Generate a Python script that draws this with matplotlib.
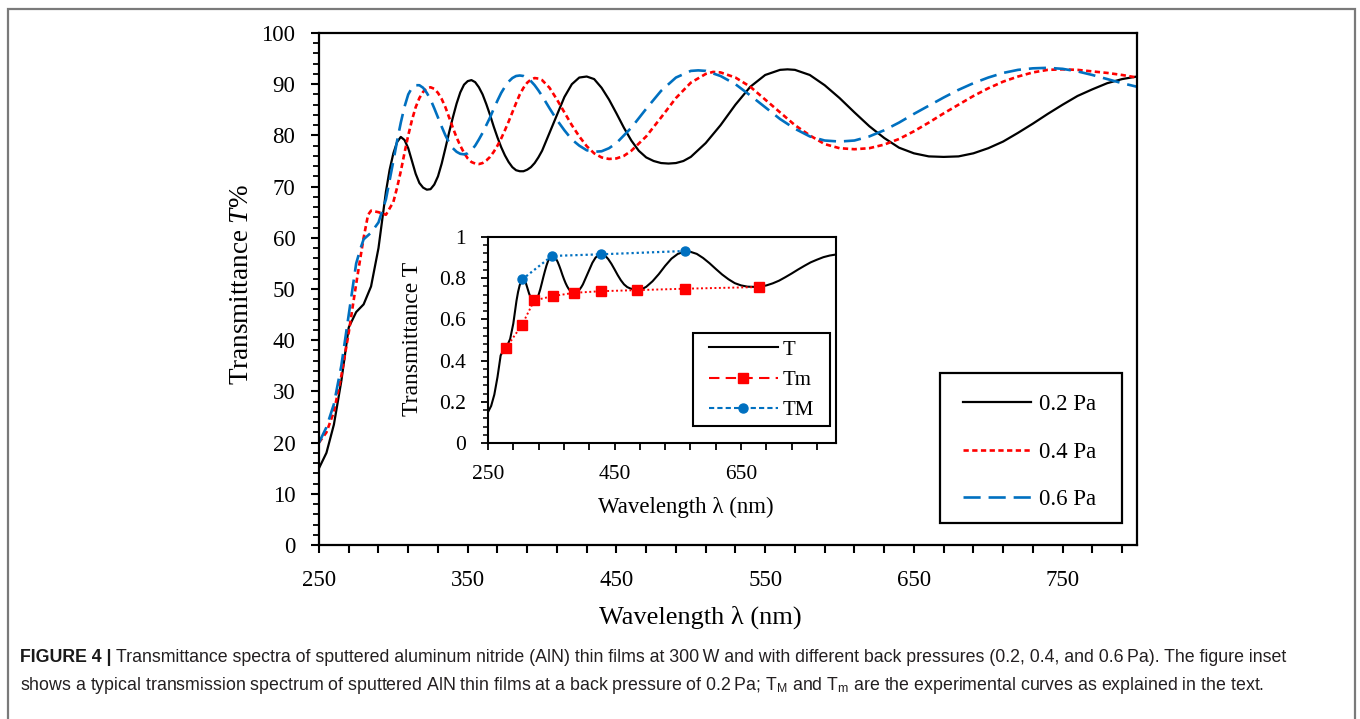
import matplotlib
matplotlib.use("Agg")
import matplotlib.pyplot as plt
from matplotlib.lines import Line2D
from matplotlib.patches import Rectangle
from matplotlib import font_manager

names = {f.name for f in font_manager.fontManager.ttflist}
cap_font = 'Liberation Sans Narrow' if 'Liberation Sans Narrow' in names else 'Liberation Sans'

plt.rcParams['font.family'] = ['Liberation Serif', 'DejaVu Serif']
plt.rcParams['mathtext.fontset'] = 'custom'
plt.rcParams['mathtext.rm'] = 'Liberation Serif'
plt.rcParams['mathtext.it'] = 'Liberation Serif:italic'
plt.rcParams['mathtext.sf'] = cap_font

# ---------------- data ----------------
wl_02 = [250, 255, 260, 265, 270, 275, 280, 285, 290, 292.5, 295, 297.5, 300, 302.5, 305, 307.5,
         310, 312.5, 315, 317.5, 320, 322.5, 325, 327.5, 330, 332.5, 335, 337.5, 340, 342.5, 345,
         347.5, 350, 352.5, 355, 357.5, 360, 362.5, 365, 367.5, 370, 372.5, 375, 377.5, 380,
         382.5, 385, 387.5, 390, 392.5, 395, 397.5, 400, 405, 410, 415, 420, 425, 430, 435, 440,
         445, 450, 455, 460, 465, 470, 475, 480, 485, 490, 495, 500, 510, 520, 530, 540, 550,
         560, 565, 570, 580, 590, 600, 610, 620, 630, 640, 650, 660, 670, 680, 690, 700, 710,
         720, 730, 740, 750, 760, 770, 780, 790, 800]
T_02 = [15.0, 18.0, 23.5, 32.0, 42.5, 45.5, 47.0, 50.5, 58.0, 63.5, 69.0, 73.3, 76.5, 78.7, 79.7,
        79.1, 77.5, 75.0, 72.5, 70.7, 69.8, 69.4, 69.5, 70.4, 72.0, 74.5, 77.5, 80.6, 83.5, 86.2,
        88.4, 89.9, 90.6, 90.8, 90.4, 89.4, 88.0, 86.1, 84.0, 81.7, 79.6, 77.7, 76.1, 74.8, 73.8,
        73.2, 73.0, 73.0, 73.3, 73.8, 74.6, 75.7, 77.0, 80.5, 84.0, 87.5, 90.0, 91.3, 91.5, 91.0,
        89.3, 87.0, 84.3, 81.5, 79.0, 77.0, 75.7, 75.0, 74.6, 74.5, 74.6, 75.0, 75.8, 78.5, 82.0,
        86.0, 89.5, 91.8, 92.8, 92.9, 92.8, 91.8, 89.8, 87.3, 84.5, 81.8, 79.5, 77.6, 76.5, 75.9,
        75.8, 75.9, 76.5, 77.5, 78.8, 80.5, 82.3, 84.2, 86.0, 87.7, 89.0, 90.2, 91.0, 91.5]

wl_04 = [250, 255, 260, 265, 270, 275, 280, 283, 285, 290, 295, 300, 302.5, 305, 307.5, 310, 312.5,
         315, 317.5, 320, 322.5, 325, 327.5, 330, 332.5, 335, 337.5, 340, 342.5, 345, 347.5, 350,
         352.5, 355, 357.5, 360, 362.5, 365, 367.5, 370, 372.5, 375, 377.5, 380, 382.5, 385,
         387.5, 390, 392.5, 395, 397.5, 400, 405, 410, 415, 420, 425, 430, 435, 440, 445, 450,
         455, 460, 470, 480, 490, 500, 510, 515, 520, 530, 540, 550, 560, 570, 580, 590, 600,
         610, 620, 630, 640, 650, 660, 670, 680, 690, 700, 710, 720, 730, 740, 750, 760, 770,
         780, 790, 800]
T_04 = [20.0, 22.0, 26.0, 33.0, 41.5, 51.0, 60.0, 64.5, 65.3, 65.0, 64.5, 67.0, 69.8, 73.0, 76.6,
        80.0, 83.0, 85.5, 87.3, 88.5, 89.2, 89.4, 89.1, 88.3, 87.1, 85.5, 83.5, 81.5, 79.6, 78.0,
        76.6, 75.5, 74.8, 74.5, 74.4, 74.6, 75.1, 75.8, 76.8, 78.0, 79.4, 81.0, 82.7, 84.5, 86.3,
        88.0, 89.3, 90.3, 90.9, 91.2, 91.1, 90.8, 89.3, 87.0, 84.5, 82.0, 79.8, 77.9, 76.5, 75.7,
        75.4, 75.5, 76.0, 77.0, 79.8, 83.5, 87.3, 90.3, 92.0, 92.4, 92.3, 91.3, 89.5, 87.0, 84.5,
        82.0, 80.0, 78.3, 77.5, 77.3, 77.5, 78.2, 79.3, 80.8, 82.5, 84.3, 86.0, 87.7, 89.2, 90.5,
        91.5, 92.3, 92.8, 92.9, 92.8, 92.5, 92.2, 91.8, 91.3]

wl_06 = [250, 255, 260, 265, 270, 275, 278, 280, 285, 290, 295, 300, 302.5, 305, 307.5, 310, 312.5,
         315, 317.5, 320, 322.5, 325, 327.5, 330, 332.5, 335, 337.5, 340, 342.5, 345, 347.5, 350,
         352.5, 355, 357.5, 360, 362.5, 365, 367.5, 370, 372.5, 375, 377.5, 380, 382.5, 385,
         387.5, 390, 392.5, 395, 397.5, 400, 405, 410, 415, 420, 425, 430, 435, 440, 445, 450,
         460, 470, 480, 490, 500, 505, 510, 520, 530, 540, 550, 560, 570, 580, 590, 600, 610,
         620, 630, 640, 650, 660, 670, 680, 690, 700, 710, 720, 730, 740, 750, 760, 770, 780,
         790, 800]
T_06 = [20.0, 23.0, 27.5, 35.0, 45.0, 55.0, 58.0, 59.7, 61.0, 63.0, 67.5, 75.0, 78.9, 82.5, 85.6,
        88.0, 89.3, 89.8, 89.8, 89.3, 88.3, 87.0, 85.3, 83.5, 81.7, 80.0, 78.6, 77.5, 76.8, 76.4,
        76.3, 76.5, 77.1, 78.0, 79.2, 80.5, 82.0, 83.5, 85.2, 86.8, 88.3, 89.5, 90.5, 91.2, 91.6,
        91.7, 91.6, 91.2, 90.6, 89.8, 88.8, 87.7, 85.3, 83.0, 81.0, 79.2, 78.0, 77.1, 76.8, 76.9,
        77.5, 78.5, 81.5, 85.2, 88.7, 91.3, 92.6, 92.7, 92.6, 91.6, 90.0, 87.8, 85.5, 83.2, 81.3,
        79.8, 79.0, 78.8, 79.0, 79.8, 81.0, 82.5, 84.2, 85.8, 87.4, 88.9, 90.2, 91.3, 92.2, 92.8,
        93.1, 93.2, 93.0, 92.5, 91.8, 91.0, 90.2, 89.5]

# inset: envelopes
wl_Tm = [278, 304, 323, 352, 386, 429, 485, 561, 678]
Tm = [0.459, 0.575, 0.692, 0.713, 0.729, 0.737, 0.742, 0.749, 0.757]
wl_TM = [304, 351, 429, 561]
TM = [0.794, 0.908, 0.916, 0.932]

labels_main = ['0.2 Pa', '0.4 Pa', '0.6 Pa']
labels_inset = ['T', 'Tm', 'TM']

RED = '#FF0000'
BLUE = '#0070C0'

W, H = 1360, 719
fig = plt.figure(figsize=(W / 100, H / 100), dpi=100)

def fx(px):
    return px / W

def fy(py):
    return 1 - py / H

def frame(x0, y0, x1, y1, lw, color='black'):
    fig.patches.append(Rectangle((fx(x0), fy(y1)), fx(x1) - fx(x0), fy(y0) - fy(y1),
                                 transform=fig.transFigure, fill=False, edgecolor=color,
                                 linewidth=lw, zorder=10))

# outer frame
fig.patches.append(Rectangle((fx(7.5), -0.05), fx(1354.5) - fx(7.5), fy(8.5) + 0.05,
                             transform=fig.transFigure, fill=False, edgecolor='#7a7a7a',
                             linewidth=1.6))

# ---------------- main axes ----------------
ax = fig.add_axes([fx(319), fy(545), fx(1137) - fx(319), fy(33) - fy(545)])
l1, = ax.plot(wl_02, T_02, color='black', lw=1.6, solid_joinstyle='round')
l2, = ax.plot(wl_04, T_04, color=RED, lw=1.9, linestyle=(0, (2.0, 1.3)))
l3, = ax.plot(wl_06, T_06, color=BLUE, lw=1.9, linestyle=(0, (6.5, 3.0)))
ax.set_xlim(250, 800)
ax.set_ylim(0, 100)
xt = list(range(250, 801, 20))
ax.set_xticks(xt)
ax.set_xticklabels([str(v) if (v - 250) % 100 == 0 else '' for v in xt])
ax.set_yticks(range(0, 101, 10))
ax.set_yticks(range(0, 101, 2), minor=True)
ax.tick_params(axis='both', which='major', direction='out', length=6, width=1.5,
               labelsize=16.5)
ax.tick_params(axis='y', which='major', pad=11)
ax.tick_params(axis='x', which='major', pad=12)
ax.tick_params(axis='y', which='minor', direction='out', length=4, width=1.3)
for s in ax.spines.values():
    s.set_linewidth(1.6)
xl = ax.set_xlabel('Wavelength λ (nm)', fontsize=19)
yl = ax.set_ylabel('Transmittance $\\mathit{T}$%', fontsize=19.5)
xl.set_verticalalignment('center')
yl.set_verticalalignment('center')
ax.xaxis.set_label_coords((700 - 319) / 818, (545 - 617) / 512)
ax.yaxis.set_label_coords((241 - 319) / 818, (545 - 285) / 512)

leg = ax.legend([l1, l2, l3], labels_main, loc='upper left',
                bbox_to_anchor=(fx(963), fy(394)), bbox_transform=fig.transFigure,
                fontsize=16.5, handlelength=2.97, handletextpad=0.35, labelspacing=1.16,
                borderpad=0, borderaxespad=0, frameon=False)
frame(940, 373, 1122, 523, 1.6)

# ---------------- inset ----------------
ins = fig.add_axes([fx(488), fy(443), fx(836) - fx(488), fy(237) - fy(443)])
T_inset = [v / 100 for v in T_02]
i1, = ins.plot(wl_02, T_inset, color='black', lw=1.5, solid_joinstyle='round')
i2, = ins.plot(wl_Tm, Tm, color=RED, lw=1.4, linestyle=(0, (1, 1.3)), marker='s',
               markersize=6.5, zorder=3)
i3, = ins.plot(wl_TM, TM, color=BLUE, lw=1.6, linestyle=(0, (1, 1.3)), marker='o',
               markersize=6.5, zorder=3)
ins.set_xlim(250, 800)
ins.set_ylim(0, 1)
xti = list(range(250, 801, 40))
ins.set_xticks(xti)
ins.set_xticklabels([str(v) if (v - 250) % 200 == 0 else '' for v in xti])
ins.set_yticks([0, 0.2, 0.4, 0.6, 0.8, 1.0])
ins.set_yticklabels(['0', '0.2', '0.4', '0.6', '0.8', '1'])
ins.set_yticks([i * 0.04 for i in range(26)], minor=True)
ins.tick_params(axis='both', which='major', direction='out', length=5, width=1.3,
                labelsize=15.5)
ins.tick_params(axis='y', which='major', pad=11)
ins.tick_params(axis='x', which='major', pad=11)
ins.tick_params(axis='y', which='minor', direction='out', length=3.5, width=1.1)
for s in ins.spines.values():
    s.set_linewidth(1.5)
ixl = ins.set_xlabel('Wavelength λ (nm)', fontsize=16.5)
iyl = ins.set_ylabel('Transmittance T', fontsize=17)
ixl.set_verticalalignment('center')
iyl.set_verticalalignment('center')
ins.xaxis.set_label_coords((686 - 488) / 348, (443 - 507) / 206)
ins.yaxis.set_label_coords((413 - 488) / 348, (443 - 339) / 206)

h1 = Line2D([], [], color='black', lw=1.5)
h2 = Line2D([], [], color=RED, lw=1.5, linestyle=(0, (5, 3)), marker='s', markersize=6.5)
h3 = Line2D([], [], color=BLUE, lw=1.5, linestyle=(0, (2.5, 1.5)), marker='o', markersize=6.5)
ileg = ins.legend([h1, h2, h3], labels_inset, loc='upper left',
                  bbox_to_anchor=(fx(709), fy(340)), bbox_transform=fig.transFigure,
                  fontsize=15, handlelength=3.3, handletextpad=0.25, labelspacing=0.52,
                  borderpad=0, borderaxespad=0, frameon=False)
frame(693, 333, 830, 426, 1.5)

# ---------------- caption ----------------
cap_size = 12.8
fig.canvas.draw()
r = fig.canvas.get_renderer()
tb = fig.text(fx(20), fy(658), 'FIGURE 4 |', fontsize=cap_size, fontweight='bold',
              family=[cap_font, 'DejaVu Sans'], va='center', ha='left', color='#1a1a1a')
ext = tb.get_window_extent(renderer=r)
x_after = (ext.x1 + 4) / W
fig.text(x_after, fy(658),
         'Transmittance spectra of sputtered aluminum nitride (AlN) thin films at 300\u2009W and with '
         'different back pressures (0.2, 0.4, and 0.6\u2009Pa). The figure inset',
         fontsize=cap_size, family=[cap_font, 'DejaVu Sans'], va='center', ha='left',
         color='#231f20')
fig.text(fx(20), fy(685),
         'shows a typical transmission spectrum of sputtered AlN thin films at a back pressure of '
         '0.2\u2009Pa; T$_{\\mathsf{M}}$ and T$_{\\mathsf{m}}$ are the experimental curves as '
         'explained in the text.',
         fontsize=cap_size, family=[cap_font, 'DejaVu Sans'], va='center', ha='left',
         color='#231f20')

fig.savefig('out.png', dpi=100)
